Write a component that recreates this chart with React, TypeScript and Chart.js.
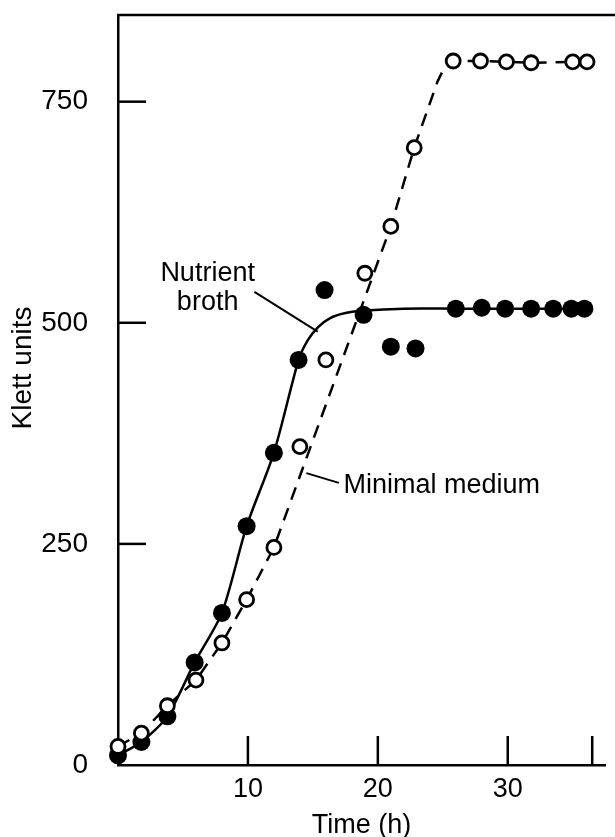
import React, { useEffect, useRef } from "react";
import { Chart, registerables } from "chart.js";

Chart.register(...registerables);

// ---- Data ----
const nutrientTime = [0, 1.8, 3.8, 5.9, 8.0, 9.9, 12.0, 13.9, 15.9, 18.9, 21.0, 22.9, 26.0, 28.0, 29.8, 31.8, 33.5, 34.9, 35.9];
const nutrientKlett = [11, 26, 55, 116, 172, 270, 353, 458, 537, 509, 473, 471, 516, 517, 516, 516, 516, 516, 516];

const minimalTime = [0, 1.8, 3.8, 6.0, 8.0, 9.9, 12.0, 14.0, 16.0, 19.0, 21.0, 22.8, 25.8, 27.9, 29.9, 31.8, 35.0, 36.1];
const minimalKlett = [21, 36, 67, 96, 138, 187, 246, 360, 458, 556, 609, 698, 796, 796, 795, 794, 795, 795];

// fitted curves
const nutrientCurveTime = [0, 1.8, 3.8, 5.9, 8.0, 9.9, 12.0, 13.9, 14.6, 15.4, 16.3, 17.5, 19.0, 22.0, 26.0, 36.0];
const nutrientCurveKlett = [11, 26, 55, 116, 172, 270, 353, 458, 480, 495, 505, 511, 514, 516, 516, 516];

const minimalCurveTime = [0, 1.8, 3.8, 6.0, 8.0, 9.9, 12.0, 21.0, 22.8, 24.6, 25.1, 25.8, 27.9, 29.9, 31.8, 35.0, 36.1];
const minimalCurveKlett = [21, 36, 67, 96, 138, 187, 246, 609, 698, 773, 788, 796, 796, 795, 794, 795, 795];

// axes
const xTickValues = [10, 20, 30, 36.5];
const xTickLabels = ["10", "20", "30", ""];
const yTickValues = [0, 250, 500, 750];
const yTickLabels = ["0", "250", "500", "750"];
const xMin = 0;
const xMax = 37.5;
const yMin = 0;
const yMax = 848;

const xTitle = "Time (h)";
const yTitle = "Klett units";

// annotation labels (positions in data units)
const nutrientLabelLines = ["Nutrient", "broth"];
const nutrientLabelAt = { x: 6.9, y: 556 };
const nutrientLeader = [{ x: 10.5, y: 535 }, { x: 15.37, y: 490 }];
const minimalLabel = "Minimal medium";
const minimalLabelAt = { x: 17.36, y: 316 };
const minimalLeader = [{ x: 17.0, y: 319 }, { x: 14.5, y: 330 }];

const FONT = "'Liberation Sans', Arial, sans-serif";

const zip = (xs: number[], ys: number[]) => xs.map((x, i) => ({ x, y: ys[i] }));

const decorPlugin = {
  id: "decor",
  afterDraw(chart: any) {
    const { ctx, chartArea } = chart;
    const xs = chart.scales.x;
    const ys = chart.scales.y;
    ctx.save();
    ctx.strokeStyle = "#000";
    ctx.fillStyle = "#000";
    ctx.lineWidth = 2.5;
    ctx.lineCap = "butt";
    const line = (x1: number, y1: number, x2: number, y2: number) => {
      ctx.beginPath();
      ctx.moveTo(x1, y1);
      ctx.lineTo(x2, y2);
      ctx.stroke();
    };
    // top frame
    line(chartArea.left - 1, chartArea.top, chart.width, chartArea.top);
    // inward ticks
    yTickValues.forEach((v) => {
      if (v === yMin) return;
      const py = ys.getPixelForValue(v);
      line(chartArea.left, py, chartArea.left + 28, py);
    });
    xTickValues.forEach((v) => {
      const px = xs.getPixelForValue(v);
      line(px, chartArea.bottom, px, chartArea.bottom - 29);
    });
    // leader lines
    ctx.lineWidth = 2;
    line(
      xs.getPixelForValue(nutrientLeader[0].x), ys.getPixelForValue(nutrientLeader[0].y),
      xs.getPixelForValue(nutrientLeader[1].x), ys.getPixelForValue(nutrientLeader[1].y)
    );
    line(
      xs.getPixelForValue(minimalLeader[0].x), ys.getPixelForValue(minimalLeader[0].y),
      xs.getPixelForValue(minimalLeader[1].x), ys.getPixelForValue(minimalLeader[1].y)
    );
    // labels
    ctx.font = `27px ${FONT}`;
    ctx.textAlign = "center";
    ctx.textBaseline = "middle";
    const nx = xs.getPixelForValue(nutrientLabelAt.x);
    const ny = ys.getPixelForValue(nutrientLabelAt.y);
    nutrientLabelLines.forEach((t, i) => ctx.fillText(t, nx, ny + i * 29));
    ctx.textAlign = "left";
    ctx.fillText(minimalLabel, xs.getPixelForValue(minimalLabelAt.x), ys.getPixelForValue(minimalLabelAt.y));
    // y title
    ctx.translate(23, (chartArea.top + chartArea.bottom) / 2 - 22);
    ctx.rotate(-Math.PI / 2);
    ctx.textAlign = "center";
    ctx.font = `28px ${FONT}`;
    ctx.fillText(yTitle, 0, 0);
    ctx.restore();
  },
};

export default function App() {
  const ref = useRef<HTMLCanvasElement>(null);
  useEffect(() => {
    const chart = new Chart(ref.current as HTMLCanvasElement, {
      type: "scatter",
      data: {
        datasets: [
          {
            label: "Nutrient broth",
            data: zip(nutrientTime, nutrientKlett),
            showLine: false,
            pointRadius: 9,
            pointBackgroundColor: "#000",
            pointBorderColor: "#000",
            pointBorderWidth: 0,
            clip: false,
            order: 1,
          },
          {
            label: "Minimal medium",
            data: zip(minimalTime, minimalKlett),
            showLine: false,
            pointRadius: 7,
            pointBackgroundColor: "#fff",
            pointBorderColor: "#000",
            pointBorderWidth: 2.8,
            clip: false,
            order: 0,
          },
          {
            label: "Nutrient broth curve",
            data: zip(nutrientCurveTime, nutrientCurveKlett),
            showLine: true,
            borderColor: "#000",
            borderWidth: 2.5,
            pointRadius: 0,
            tension: 0.25,
            clip: false,
            order: 3,
          },
          {
            label: "Minimal medium curve",
            data: zip(minimalCurveTime, minimalCurveKlett),
            showLine: true,
            borderColor: "#000",
            borderWidth: 2.5,
            borderDash: [13, 9],
            pointRadius: 0,
            tension: 0,
            clip: false,
            order: 2,
          },
        ],
      },
      options: {
        animation: false,
        responsive: false,
        events: [],
        layout: { padding: { top: 15, right: 0, left: 0, bottom: 0 } },
        plugins: { legend: { display: false }, tooltip: { enabled: false } },
        scales: {
          x: {
            type: "linear",
            min: xMin,
            max: xMax,
            grid: { display: false, drawTicks: false },
            border: { display: true, color: "#000", width: 2.5 },
            afterBuildTicks: (s: any) => {
              s.ticks = xTickValues.map((v) => ({ value: v }));
            },
            afterFit: (s: any) => {
              s.height = 72;
              s.paddingLeft = 0;
              s.paddingRight = 0;
            },
            ticks: {
              color: "#000",
              font: { family: FONT, size: 27 },
              padding: 8,
              maxRotation: 0,
              autoSkip: false,
              callback: (v: any) => {
                const i = xTickValues.indexOf(Number(v));
                return i >= 0 ? xTickLabels[i] : "";
              },
            },
            title: {
              display: true,
              text: xTitle,
              color: "#000",
              font: { family: FONT, size: 27 },
              padding: { top: 0, bottom: -5 },
            },
          },
          y: {
            type: "linear",
            min: yMin,
            max: yMax,
            grid: { display: false, drawTicks: false },
            border: { display: true, color: "#000", width: 2.5 },
            afterBuildTicks: (s: any) => {
              s.ticks = yTickValues.map((v) => ({ value: v }));
            },
            afterFit: (s: any) => {
              s.width = 118;
              s.paddingTop = 0;
              s.paddingBottom = 0;
            },
            ticks: {
              color: "#000",
              font: { family: FONT, size: 28 },
              padding: 30,
              autoSkip: false,
              callback: (v: any) => {
                const i = yTickValues.indexOf(Number(v));
                return i >= 0 ? yTickLabels[i] : "";
              },
            },
          },
        },
      },
      plugins: [decorPlugin],
    } as any);
    return () => chart.destroy();
  }, []);
  return (
    <div style={{ position: "absolute", left: 0, top: 0, width: 615, height: 837, background: "#fff", overflow: "hidden" }}>
      <canvas ref={ref} width={615} height={837} style={{ display: "block", width: 615, height: 837 }} />
    </div>
  );
}
